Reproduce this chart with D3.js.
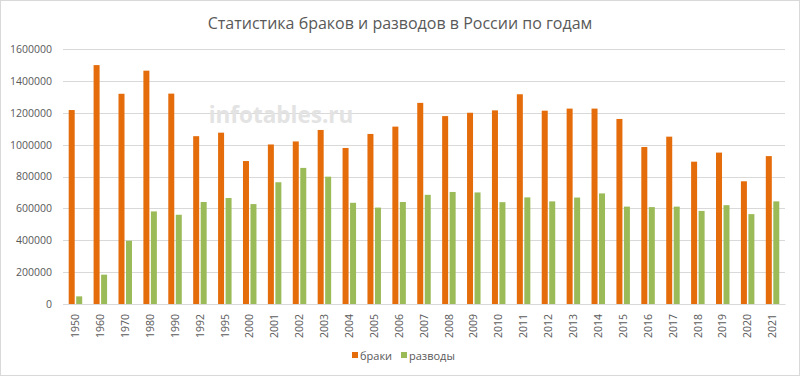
<!DOCTYPE html>
<html><head><meta charset="utf-8">
<script src="https://cdn.jsdelivr.net/npm/d3@7"></script>
<style>body{margin:0;background:#fff}svg{display:block}</style>
</head><body>
<script>
const years = ["1950","1960","1970","1980","1990","1992","1995","2000","2001","2002","2003","2004","2005","2006","2007","2008","2009","2010","2011","2012","2013","2014","2015","2016","2017","2018","2019","2020","2021"];
const marriages = [1217000,1499000,1319000,1464000,1320000,1053000,1075000,897000,1001000,1020000,1092000,979000,1067000,1113000,1262000,1179000,1200000,1215000,1316000,1213000,1226000,1226000,1161000,985000,1050000,893000,950000,770000,928000];
const divorces = [48000,184000,397000,581000,560000,640000,665000,627000,764000,854000,799000,635000,605000,640000,685000,703000,700000,639000,669000,644000,668000,694000,611000,608000,611000,584000,620000,564000,644000];
const seriesNames = ["браки","разводы"];
const colors = ["#E46C0A","#9BBB59"];
const yTicks = [0,200000,400000,600000,800000,1000000,1200000,1400000,1600000];
const title = "Статистика браков и разводов в России по годам";

const W=800,H=376;
const m={left:63,right:15,top:49,bottom:72};
const svg=d3.select("body").append("svg").attr("width",W).attr("height",H);
const font="'Open Sans', sans-serif";
svg.append("rect").attr("x",0.5).attr("y",0.5).attr("width",W-1).attr("height",H-1).attr("fill","#fff").attr("stroke","#d9d9d9");

const x0=d3.scaleBand().domain(years).range([m.left,W-m.right]).paddingInner(0.458).paddingOuter(0.229);
const x1=d3.scaleBand().domain([0,1]).range([0,x0.bandwidth()]).paddingInner(0.2);
const y=d3.scaleLinear().domain([0,1600000]).range([H-m.bottom,m.top]);

// grid
svg.append("g").selectAll("line").data(yTicks).join("line")
 .attr("x1",m.left).attr("x2",W-m.right)
 .attr("y1",d=>Math.round(y(d))+0.5).attr("y2",d=>Math.round(y(d))+0.5)
 .attr("stroke","#d9d9d9").attr("stroke-width",1);

// watermark
svg.append("text").attr("x",281).attr("y",123).attr("text-anchor","middle")
 .attr("font-family",font).attr("font-weight","bold").attr("font-size",22.5)
 .attr("fill","#e3e3e3").text("infotables.ru");

// y axis labels
const yAxis=d3.axisLeft(y).tickValues(yTicks).tickSize(0).tickPadding(11).tickFormat(d=>String(d));
const ga=svg.append("g").attr("transform",`translate(${m.left},0)`).call(yAxis);
ga.select(".domain").remove();
ga.selectAll("text").attr("font-family",font).attr("font-size",10.5).attr("fill","#595959");

// bars
const data=years.map((yr,i)=>({yr,vals:[marriages[i],divorces[i]]}));
const g=svg.append("g");
g.selectAll("g").data(data).join("g").attr("transform",d=>`translate(${x0(d.yr)},0)`)
 .selectAll("rect").data(d=>d.vals.map((v,k)=>({v,k}))).join("rect")
 .attr("x",d=>x1(d.k)).attr("width",x1.bandwidth())
 .attr("y",d=>y(d.v)).attr("height",d=>y(0)-y(d.v))
 .attr("fill",d=>colors[d.k]);

// x axis
const xa=d3.scaleBand().domain(years).range([m.left,W-m.right]);
const xAxis=d3.axisBottom(xa).tickSize(0).tickPadding(0);
const gx=svg.append("g").attr("transform",`translate(0,${y(0)})`).call(xAxis);
gx.select(".domain").attr("stroke","#d9d9d9");
gx.selectAll("text").attr("font-family",font).attr("font-size",10.5).attr("fill","#595959")
 .attr("transform","rotate(-90)").attr("text-anchor","end").attr("dy","0.35em").attr("x",-10).attr("y",0);

// title
svg.append("text").attr("x",400).attr("y",29).attr("text-anchor","middle")
 .attr("font-family",font).attr("font-size",16).attr("fill","#595959").text(title);

// legend
const lg=svg.append("g");
const lx=[352,401];
seriesNames.forEach((s,i)=>{
  lg.append("rect").attr("x",lx[i]).attr("y",352).attr("width",6).attr("height",6).attr("fill",colors[i]);
  lg.append("text").attr("x",lx[i]+8).attr("y",359.5).attr("font-family",font).attr("font-size",11).attr("fill","#595959").text(s);
});
</script>
</body></html>
